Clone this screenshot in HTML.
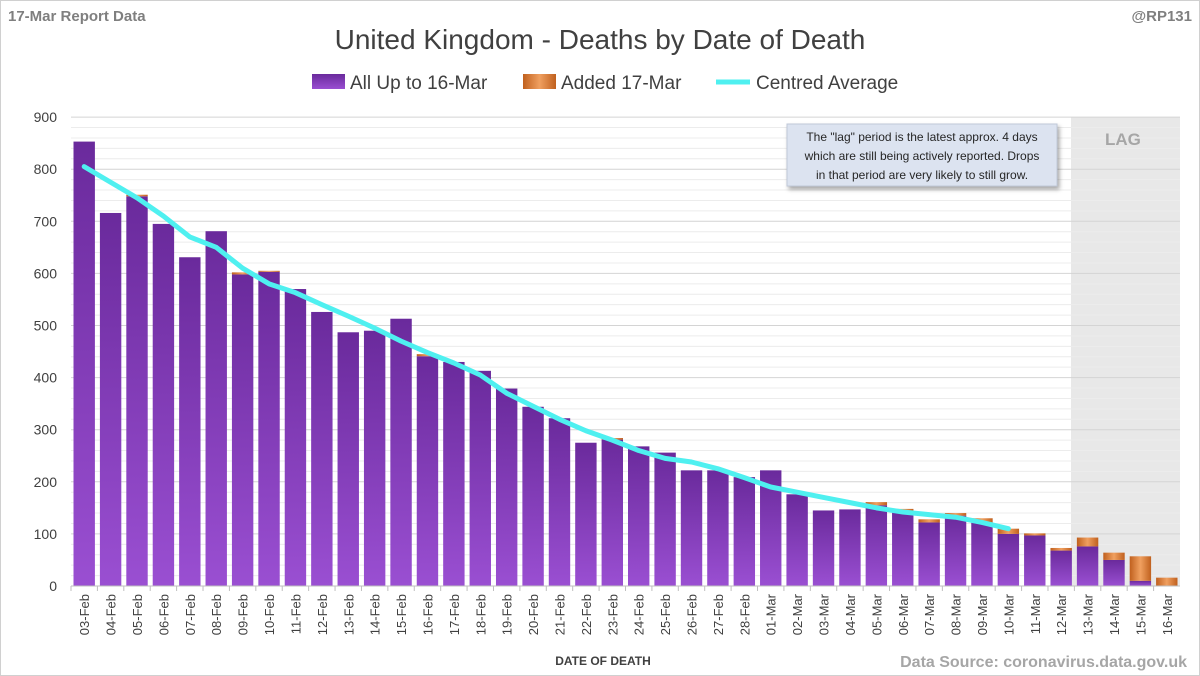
<!DOCTYPE html>
<html><head><meta charset="utf-8"><style>
body{margin:0;background:#fff;}
svg{display:block;font-family:"Liberation Sans",sans-serif;}
</style></head><body>
<svg id="s" width="1200" height="676" xmlns="http://www.w3.org/2000/svg">
<defs>
<linearGradient id="pg" x1="0" y1="0" x2="0" y2="1"><stop offset="0" stop-color="#6a2a9c"/><stop offset="1" stop-color="#9a4fd2"/></linearGradient>
<linearGradient id="og" x1="0" y1="0" x2="1" y2="0"><stop offset="0" stop-color="#c0601e"/><stop offset="0.5" stop-color="#f0a060"/><stop offset="1" stop-color="#c0601e"/></linearGradient>
<filter id="sh" x="-10%" y="-10%" width="120%" height="140%"><feDropShadow dx="2" dy="3" stdDeviation="2" flood-opacity="0.35"/></filter>
</defs>
<rect x="0.5" y="0.5" width="1199" height="675" fill="#fff" stroke="#d0d0d0"/>
<g id="g"></g>
</svg>
<script>
const all=[853,716,748,695,631,681,598,603,570,526,487,490,513,441,430,413,379,344,322,275,281,268,256,222,222,209,222,176,145,147,155,145,122,135,122,100,97,68,76,50,10,0];
const add=[0,0,3,0,0,0,4,2,0,0,0,0,0,4,0,0,0,0,0,0,3,0,0,0,0,0,0,0,0,0,6,3,6,5,8,10,4,5,17,14,47,16];
const avg=[805,775,745,710,670,650,610,580,563,540,518,495,470,448,428,405,370,345,320,298,280,260,245,238,225,208,190,180,170,160,150,142,137,132,122,110];
const labs=[];for(let d=3;d<=28;d++)labs.push(String(d).padStart(2,'0')+'-Feb');for(let d=1;d<=16;d++)labs.push(String(d).padStart(2,'0')+'-Mar');
const X0=71,X1=1180,Y0=586,S=52.1/100,cw=(X1-X0)/42;
const y=v=>Y0-v*S;
let h='';
h+=`<rect x="1071" y="117" width="${X1-1071}" height="469" fill="#e8e8e8"/>`;
for(let v=0;v<=900;v+=20){const m=v%100==0;h+=`<line x1="${X0}" x2="${X1}" y1="${y(v)}" y2="${y(v)}" stroke="${m?'#d4d4d4':'#ececec'}" stroke-width="1"/>`;}
for(let v=0;v<=900;v+=100)h+=`<text x="57" y="${y(v)+5}" text-anchor="end" font-size="14" fill="#404040">${v}</text>`;
h+=`<text x="1105" y="145" font-size="17" font-weight="bold" fill="#a6a6a6">LAG</text>`;
for(let i=0;i<42;i++){const bx=X0+i*cw+2.5,bw=cw-5;
 if(all[i]>0)h+=`<rect x="${bx}" y="${y(all[i])}" width="${bw}" height="${all[i]*S}" fill="url(#pg)"/>`;
 if(add[i]>0)h+=`<rect x="${bx}" y="${y(all[i]+add[i])}" width="${bw}" height="${add[i]*S}" fill="url(#og)"/>`;
 const cx=X0+(i+0.5)*cw;
 h+=`<line x1="${X0+i*cw}" x2="${X0+i*cw}" y1="586" y2="591" stroke="#bfbfbf"/>`;
 h+=`<text transform="translate(${cx+5},594) rotate(-90)" text-anchor="end" font-size="13" fill="#404040">${labs[i]}</text>`;}
h+=`<line x1="${X0}" x2="${X1}" y1="586" y2="586" stroke="#bfbfbf"/>`;
let p=avg.map((v,i)=>`${X0+(i+0.5)*cw},${y(v)}`).join(' ');
h+=`<polyline points="${p}" fill="none" stroke="#4ff0f0" stroke-width="5" stroke-linejoin="round" stroke-linecap="round"/>`;
h+=`<rect x="787" y="124" width="270" height="62" fill="#dce3f0" stroke="#c0c8d8" filter="url(#sh)"/>`;
[['The "lag" period is the latest approx. 4 days',141],['which are still being actively reported.  Drops',160],['in that period are very likely to still grow.',179]].forEach(t=>h+=`<text x="922" y="${t[1]}" text-anchor="middle" font-size="12" fill="#262626">${t[0]}</text>`);
h+=`<text x="600" y="49" text-anchor="middle" font-size="28" fill="#404040">United Kingdom - Deaths by Date of Death</text>`;
h+=`<text x="8" y="21" font-size="15" font-weight="bold" fill="#7f7f7f">17-Mar Report Data</text>`;
h+=`<text x="1192" y="21" text-anchor="end" font-size="15" font-weight="bold" fill="#7f7f7f">@RP131</text>`;
h+=`<rect x="312" y="74" width="33" height="15" fill="url(#pg)"/><text x="350" y="89" font-size="19" fill="#404040">All Up to 16-Mar</text>`;
h+=`<rect x="523" y="74" width="33" height="15" fill="url(#og)"/><text x="561" y="89" font-size="19" fill="#404040">Added 17-Mar</text>`;
h+=`<line x1="716" x2="750" y1="82" y2="82" stroke="#4ff0f0" stroke-width="5"/><text x="756" y="89" font-size="19" fill="#404040">Centred Average</text>`;
h+=`<text x="603" y="665" text-anchor="middle" font-size="12" font-weight="bold" fill="#404040">DATE OF DEATH</text>`;
h+=`<text x="1187" y="667" text-anchor="end" font-size="16" font-weight="bold" fill="#a6a6a6">Data Source: coronavirus.data.gov.uk</text>`;
document.getElementById('g').innerHTML=h;
</script>
</body></html>
